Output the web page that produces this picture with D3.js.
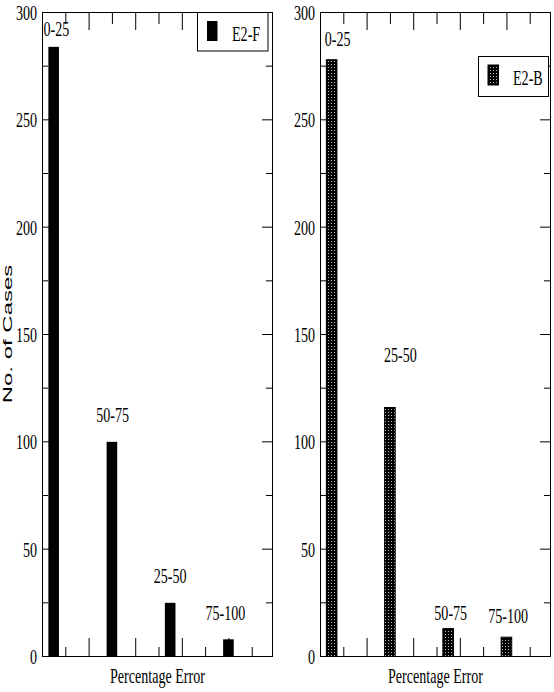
<!DOCTYPE html>
<html>
<head>
<meta charset="utf-8">
<script src="https://cdn.jsdelivr.net/npm/d3@7"></script>
<style>
  html, body { margin: 0; padding: 0; background: #fff; }
  svg { display: block; }
</style>
</head>
<body>
<svg id="chart" width="554" height="692"></svg>
<script>
// values
const groupsF = ['0-25', '50-75', '25-50', '75-100'];
const casesF = [284, 100, 25, 8];
const groupsB = ['0-25', '25-50', '50-75', '75-100'];
const casesB = [278, 116, 13, 9];
const barPos = [0.5, 3, 5.5, 8];

// manual annotation anchors (data units: x position, y baseline)
const labelXF = [0.62, 3.03, 5.5, 7.87];
const labelYF = [289, 109, 34, 17];
const labelXB = [0.76, 3.45, 5.61, 8.07];
const labelYB = [284, 137, 17, 15.5];

const yMajor = [0, 50, 100, 150, 200, 250, 300];
const yMinor = [25, 75, 125, 175, 225, 275];
const xMajor = [2, 4, 6, 8];
const xMinor = [1, 3, 5, 7, 9];

const serif = "'Liberation Serif', 'Times New Roman', serif";
const squeeze = 'scale(0.64,1)';
const fontSize = '22px';
const panelW = 230;
const xMax = 9.87;

const svg = d3.select('#chart');

const defs = svg.append('defs');
const pat = defs.append('pattern')
  .attr('id', 'dots')
  .attr('width', 3)
  .attr('height', 3)
  .attr('patternUnits', 'userSpaceOnUse');
pat.append('rect').attr('width', 3).attr('height', 3).attr('fill', '#000');
pat.append('rect').attr('x', 1).attr('y', 1).attr('width', 1).attr('height', 1).attr('fill', '#bbb');

const y = d3.scaleLinear().domain([0, 300]).range([656, 12]);

function squeezeText(sel, dx) {
  sel.attr('x', 0)
    .attr('transform', `translate(${dx},0) ${squeeze}`)
    .attr('dy', '0.34em')
    .style('font-family', serif)
    .style('font-size', fontSize)
    .style('fill', '#000');
}

function drawPanel(cfg) {
  const x = d3.scaleLinear().domain([0, xMax]).range([cfg.x0, cfg.x0 + panelW]);
  const g = svg.append('g');

  // ticks first, the bars sit on top of them
  const left = g.append('g')
    .attr('transform', `translate(${cfg.x0},0)`)
    .call(d3.axisLeft(y).tickValues(yMajor).tickSizeInner(-10).tickSizeOuter(0).tickPadding(5));
  left.select('.domain').remove();
  left.selectAll('text').call(squeezeText, -5);

  g.append('g')
    .attr('transform', `translate(${cfg.x0},0)`)
    .call(d3.axisLeft(y).tickValues(yMinor).tickSizeInner(-6).tickSizeOuter(0).tickFormat(''))
    .select('.domain').remove();

  g.append('g')
    .attr('transform', `translate(${cfg.x0 + panelW},0)`)
    .call(d3.axisRight(y).tickValues(yMajor).tickSizeInner(-10).tickSizeOuter(0).tickFormat(''))
    .select('.domain').remove();
  g.append('g')
    .attr('transform', `translate(${cfg.x0 + panelW},0)`)
    .call(d3.axisRight(y).tickValues(yMinor).tickSizeInner(-6).tickSizeOuter(0).tickFormat(''))
    .select('.domain').remove();

  g.append('g')
    .attr('transform', `translate(0,${y(0)})`)
    .call(d3.axisBottom(x).tickValues(xMajor).tickSizeInner(-18).tickSizeOuter(0).tickFormat(''))
    .select('.domain').remove();
  g.append('g')
    .attr('transform', `translate(0,${y(0)})`)
    .call(d3.axisBottom(x).tickValues(xMinor).tickSizeInner(-9).tickSizeOuter(0).tickFormat(''))
    .select('.domain').remove();

  g.append('g')
    .attr('transform', `translate(0,${y(300)})`)
    .call(d3.axisTop(x).tickValues(xMajor).tickSizeInner(-18).tickSizeOuter(0).tickFormat(''))
    .select('.domain').remove();
  g.append('g')
    .attr('transform', `translate(0,${y(300)})`)
    .call(d3.axisTop(x).tickValues(xMinor).tickSizeInner(-12).tickSizeOuter(0).tickFormat(''))
    .select('.domain').remove();

  g.selectAll('.tick line').attr('stroke', '#000').attr('stroke-width', 1);

  // frame
  g.append('rect')
    .attr('x', cfg.x0 + 0.5)
    .attr('y', y(300) + 0.5)
    .attr('width', panelW)
    .attr('height', y(0) - y(300))
    .attr('fill', 'none')
    .attr('stroke', '#000')
    .attr('stroke-width', 1);

  // bars
  const bw = 10.6;
  g.selectAll('.bar')
    .data(cfg.values)
    .enter()
    .append('rect')
    .attr('class', 'bar')
    .attr('x', (d, i) => x(barPos[i]) - bw / 2)
    .attr('y', d => y(d) + 0.5)
    .attr('width', bw)
    .attr('height', d => y(0) - y(d))
    .attr('fill', cfg.fill)
    .attr('stroke', cfg.stroke ? '#000' : 'none')
    .attr('stroke-width', 1);

  // bar annotations
  g.selectAll('.ann')
    .data(cfg.groups)
    .enter()
    .append('text')
    .attr('class', 'ann')
    .attr('transform', (d, i) => `translate(${x(cfg.labelX[i])},${y(cfg.labelY[i])}) ${squeeze}`)
    .attr('text-anchor', 'middle')
    .style('font-family', serif)
    .style('font-size', fontSize)
    .text(d => d);

  // legend
  const L = cfg.legend;
  g.append('rect')
    .attr('x', L.x + 0.5)
    .attr('y', L.y + 0.5)
    .attr('width', L.w)
    .attr('height', L.h)
    .attr('fill', '#fff')
    .attr('stroke', '#000');
  g.append('rect')
    .attr('x', L.x + 10)
    .attr('y', L.y + 9)
    .attr('width', 10.5)
    .attr('height', 20)
    .attr('fill', cfg.fill)
    .attr('stroke', cfg.stroke ? '#000' : 'none');
  g.append('text')
    .attr('transform', `translate(${L.x + 35},${L.y + 29}) ${squeeze}`)
    .style('font-family', serif)
    .style('font-size', fontSize)
    .text(cfg.name);

  // x title
  g.append('text')
    .attr('transform', `translate(${cfg.x0 + panelW / 2 + 0.5},683) ${squeeze}`)
    .attr('text-anchor', 'middle')
    .style('font-family', serif)
    .style('font-size', fontSize)
    .text('Percentage Error');
}

drawPanel({
  x0: 42, name: 'E2-F', groups: groupsF, values: casesF,
  labelX: labelXF, labelY: labelYF, fill: '#000', stroke: false,
  legend: { x: 197, y: 12, w: 70.5, h: 38.5 }
});

drawPanel({
  x0: 320, name: 'E2-B', groups: groupsB, values: casesB,
  labelX: labelXB, labelY: labelYB, fill: 'url(#dots)', stroke: true,
  legend: { x: 478, y: 56, w: 70, h: 40 }
});

// y title, stretched along its baseline like the original
svg.append('text')
  .attr('transform', `translate(12,${(y(0) + y(300)) / 2}) rotate(-90) scale(1,0.5)`)
  .attr('text-anchor', 'middle')
  .style('font-family', "'Liberation Sans', Arial, sans-serif")
  .style('font-size', '24px')
  .text('No. of Cases');
</script>
</body>
</html>
